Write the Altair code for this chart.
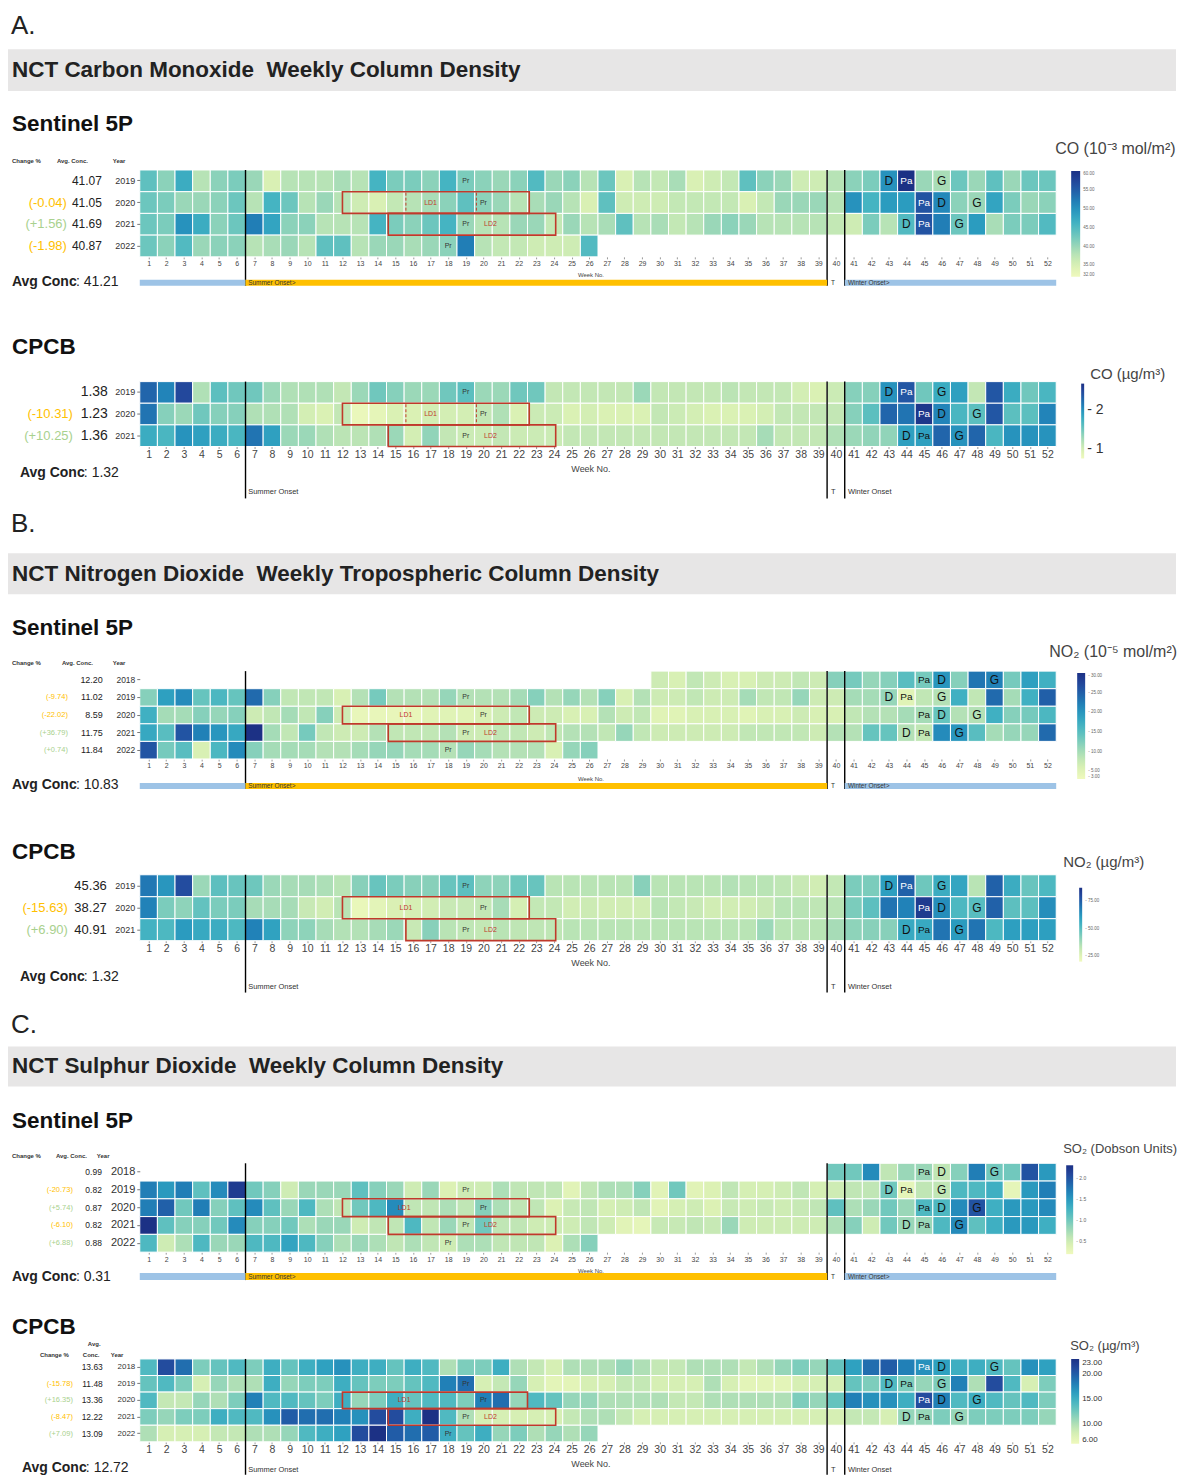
import altair as alt
import pandas as pd

FONT = "Liberation Sans"
W = 918
WEEKS = list(range(1, 53))
RED = "#c0392b"
ORANGE = "#ffc000"
GREEN = "#a9d18e"
BLUE_BAND = "#9dc3e6"
GRAY_BAND = "#e7e6e6"

# ---------------- data: A. Carbon monoxide ----------------
a_s5p_years = [2019, 2020, 2021, 2022]
a_s5p_2019 = [44, 41, 47, 38, 41, 42, 40, 35, 38, 38, 38, 39, 38, 46, 42, 42, 41, 46, 42, 41,
              40, 41, 45, 40, 41, 38, 43, 35, 38, 37, 39, 35, 36, 37, 44, 41, 40, 36, 36, 38,
              41, 42, 50, 60, 40, 39, 43, 40, 44, 40, 43, 43]
a_s5p_2020 = [43, 42, 40, 40, 41, 43, 38, 46, 43, 38, 40, 38, 36, 35, 37, 38, 39, 41, 44, 41,
              40, 38, 39, 40, 38, 35, 44, 36, 36, 36, 37, 37, 37, 37, 35, 37, 40, 40, 40, 38,
              50, 46, 49, 49, 56, 51, 41, 40, 48, 42, 40, 41]
a_s5p_2021 = [43, 42, 50, 47, 41, 43, 52, 48, 41, 41, 38, 38, 38, 46, 42, 41, 43, 46, 40, 38,
              38, 40, 40, 37, 40, 38, 39, 44, 38, 39, 37, 38, 40, 41, 40, 38, 38, 38, 38, 37,
              36, 42, 38, 45, 56, 52, 43, 49, 39, 42, 42, 45]
a_s5p_2022 = [43, 41, 45, 40, 41, 41, 38, 39, 40, 38, 44, 44, 38, 40, 40, 39, 40, 41, 52, 38,
              37, 37, 36, 36, 36, 45]
a_s5p_avg = ["41.07", "41.05", "41.69", "40.87"]
a_s5p_chg = ["", "(-0.04)", "(+1.56)", "(-1.98)"]

a_cpcb_years = [2019, 2020, 2021]
a_cpcb_2019 = [2.3, 2.1, 2.5, 1.2, 1.6, 1.5, 1.5, 1.3, 1.2, 1.2, 1.2, 1.1, 1.3, 1.5, 1.4, 1.3, 1.3, 1.5, 1.6, 1.3,
               1.3, 1.5, 1.5, 1.1, 1.1, 1.1, 1.1, 1.1, 1.3, 1.1, 1.1, 1.1, 1.1, 1.15, 1.1, 1.1, 1.1, 1.0, 0.95, 1.05,
               1.4, 1.4, 2.0, 2.4, 1.5, 1.8, 1.9, 1.1, 2.4, 1.8, 1.5, 1.7]
a_cpcb_2020 = [2.2, 1.4, 1.3, 1.5, 1.4, 1.4, 1.2, 1.2, 1.2, 1.0, 0.95, 1.1, 0.8, 0.85, 0.95, 0.95, 1.0, 1.0, 1.0, 1.1,
               1.2, 0.95, 1.05, 1.05, 0.95, 1.0, 0.95, 0.95, 0.95, 1.1, 1.05, 1.0, 0.95, 0.95, 0.95, 1.0, 1.1, 1.1, 1.1, 1.1,
               1.4, 1.6, 2.3, 2.2, 2.65, 2.1, 1.7, 1.6, 2.4, 1.6, 1.6, 2.1]
a_cpcb_2021 = [1.8, 1.7, 2.0, 1.9, 1.8, 1.7, 2.2, 1.9, 1.3, 1.3, 1.2, 1.15, 1.15, 1.2, 1.3, 1.0, 1.35, 1.1, 1.05, 1.05,
               1.1, 1.05, 1.05, 1.05, 1.1, 1.1, 1.1, 1.1, 1.1, 1.1, 1.1, 1.1, 1.1, 1.1, 1.1, 1.25, 1.1, 1.1, 1.1, 1.2,
               1.3, 1.35, 1.35, 1.9, 1.9, 2.3, 2.0, 2.3, 1.7, 2.0, 2.0, 2.0]
a_cpcb_avg = ["1.38", "1.23", "1.36"]
a_cpcb_chg = ["", "(-10.31)", "(+10.25)"]

# ---------------- data: B. Nitrogen dioxide ----------------
b_s5p_years = [2018, 2019, 2020, 2021, 2022]
b_s5p_2018 = [7, 6, 8, 7, 6, 6, 7, 7, 8, 7, 12, 13, 11, 12, 15, 13, 20, 12, 23, 22, 13, 19, 17]  # weeks 30-52
b_s5p_2019 = [12, 19, 21, 14, 16, 14, 24, 12, 8, 8, 8, 6, 9, 13, 9, 9, 9, 11, 9, 9,
              9, 10, 12, 9, 11, 9, 12, 6, 9, 7, 7, 8, 7, 7, 10, 8, 8, 11, 7, 7,
              10, 10, 11, 5, 8, 9, 17, 8, 24, 10, 17, 25]
b_s5p_2020 = [17, 10, 10, 12, 11, 12, 7, 8, 10, 8, 12, 7, 4, 4, 4, 4, 5, 5, 5, 6,
              7, 8, 7, 7, 6, 6, 9, 7, 8, 5, 5, 6, 6, 6, 5, 6, 6, 7, 6, 6,
              8, 9, 9, 10, 10, 14, 9, 9, 17, 12, 13, 16]
b_s5p_2021 = [18, 15, 26, 22, 20, 18, 30, 10, 8, 13, 8, 7, 7, 9, 8, 8, 8, 9, 7, 7,
              8, 8, 7, 8, 9, 9, 8, 11, 8, 7, 7, 7, 7, 7, 8, 8, 8, 8, 7, 9,
              9, 14, 14, 9, 8, 21, 20, 15, 10, 11, 11, 24]
b_s5p_2022 = [26, 13, 15, 6, 16, 21, 12, 10, 10, 10, 9, 9, 10, 11, 11, 10, 10, 9, 11, 10,
              9, 9, 9, 6, 11, 12]
b_s5p_avg = ["12.20", "11.02", "8.59", "11.75", "11.84"]
b_s5p_chg = ["", "(-9.74)", "(-22.02)", "(+36.79)", "(+0.74)"]

b_cpcb_years = [2019, 2020, 2021]
b_cpcb_2019 = [69, 62, 79, 39, 49, 47, 46, 39, 37, 37, 36, 34, 42, 47, 44, 42, 42, 47, 49, 41,
               41, 46, 47, 34, 34, 34, 34, 34, 42, 34, 34, 34, 34, 35, 34, 34, 33, 31, 29, 32,
               44, 44, 60, 74, 46, 56, 58, 34, 74, 56, 47, 52]
b_cpcb_2020 = [67, 44, 41, 48, 44, 44, 37, 37, 37, 31, 29, 34, 22, 24, 27, 28, 29, 31, 31, 32,
               37, 28, 32, 32, 29, 30, 29, 29, 29, 34, 32, 31, 29, 29, 29, 31, 34, 34, 33, 34,
               44, 49, 70, 67, 84, 64, 52, 50, 74, 49, 49, 64]
b_cpcb_2021 = [54, 52, 61, 57, 56, 52, 67, 59, 41, 41, 37, 35, 35, 37, 39, 31, 42, 34, 33, 32,
               34, 33, 33, 33, 34, 34, 34, 34, 34, 34, 34, 34, 34, 34, 34, 39, 34, 34, 34, 37,
               41, 42, 42, 57, 57, 70, 61, 70, 52, 60, 60, 60]
b_cpcb_avg = ["45.36", "38.27", "40.91"]
b_cpcb_chg = ["", "(-15.63)", "(+6.90)"]

# ---------------- data: C. Sulphur dioxide ----------------
c_s5p_years = [2018, 2019, 2020, 2021, 2022]
c_s5p_2018 = [1.0, 1.0, 1.6, 0.6, 0.8, 0.8, 0.6, 0.9, 1.7, 1.0, 1.0, 2.0, 1.5]  # weeks 40-52
c_s5p_2019 = [1.7, 1.5, 1.7, 1.1, 1.6, 2.2, 1.0, 0.9, 0.5, 0.8, 0.8, 0.8, 1.1, 0.9, 0.8, 0.5, 0.8, 0.4, 0.5, 0.5,
              0.7, 0.6, 0.6, 0.6, 0.35, 0.6, 0.7, 0.7, 0.9, 0.35, 1.0, 0.35, 0.4, 0.6, 0.45, 0.45, 0.5, 0.6, 0.45, 0.5,
              0.6, 0.6, 1.0, 0.3, 0.6, 0.6, 1.2, 1.2, 1.3, 0.3, 1.5, 1.7]
c_s5p_2020 = [1.7, 1.9, 1.0, 1.7, 0.9, 1.1, 1.6, 1.1, 0.8, 1.2, 0.7, 0.6, 1.0, 1.2, 1.6, 0.6, 0.6, 0.7, 0.6, 0.9,
              0.7, 0.6, 0.6, 0.4, 0.55, 0.6, 0.45, 0.5, 0.6, 0.35, 0.45, 0.5, 0.4, 0.55, 0.5, 0.55, 0.5, 0.55, 0.6, 1.1,
              0.7, 0.8, 1.0, 0.8, 1.2, 1.2, 1.6, 2.0, 1.3, 1.5, 1.5, 1.6]
c_s5p_2021 = [2.3, 1.1, 0.9, 0.9, 1.0, 1.6, 0.9, 0.9, 1.0, 0.7, 0.8, 0.8, 0.5, 0.6, 0.6, 1.2, 0.6, 0.8, 0.6, 1.0,
              0.6, 0.6, 0.5, 0.5, 0.5, 0.6, 0.5, 0.35, 0.3, 0.55, 0.55, 0.6, 0.55, 0.8, 0.5, 0.5, 0.5, 0.5, 0.5, 0.7,
              0.9, 0.5, 1.0, 0.8, 0.8, 1.2, 1.6, 1.1, 1.3, 1.5, 1.5, 1.3]
c_s5p_2022 = [1.2, 0.5, 0.7, 1.2, 0.8, 0.8, 1.2, 1.2, 1.4, 1.2, 0.9, 0.7, 0.8, 0.7, 0.6, 0.7, 0.6, 0.5, 0.7, 0.7,
              0.6, 0.6, 0.6, 0.4, 0.7, 0.9]
c_s5p_avg = ["0.99", "0.82", "0.87", "0.82", "0.88"]
c_s5p_chg = ["", "(-20.73)", "(+5.74)", "(-6.10)", "(+6.88)"]

c_cpcb_years = [2018, 2019, 2020, 2021, 2022]
c_cpcb_2018 = [14, 21, 19, 12, 13, 14, 12, 15, 13, 15, 16, 17, 15, 15, 13, 15, 14, 10, 12, 12,
               15, 10, 9, 8, 10, 10, 10, 11, 10, 9, 9, 10, 10, 10, 9, 10, 11, 12, 11, 13,
               16, 19, 20, 18, 17, 16, 15, 15, 14, 13, 17, 16]
c_cpcb_2019 = [13, 14, 12, 8, 11, 10, 10, 15, 11, 12, 12, 15, 13, 12, 12, 13, 14, 18, 19, 8,
               9, 11, 8, 7, 7, 8, 8, 9, 9, 8, 8, 8, 10, 8, 7, 7, 7, 8, 8, 8,
               13, 12, 14, 12, 11, 12, 18, 10, 21, 14, 8, 12]
c_cpcb_2020 = [14, 9, 9, 11, 10, 12, 18, 14, 14, 13, 12, 15, 11, 12, 15, 13, 14, 14, 12, 18,
               19, 11, 14, 13, 11, 11, 10, 10, 10, 10, 9, 9, 10, 10, 10, 10, 10, 12, 11, 13,
               18, 17, 17, 15, 21, 18, 14, 15, 14, 13, 14, 12]
c_cpcb_2021 = [12, 11, 12, 12, 15, 14, 14, 17, 20, 19, 19, 18, 17, 21, 21, 15, 23, 14, 10, 8,
               8, 8, 8, 8, 9, 10, 10, 9, 8, 8, 8, 8, 8, 8, 8, 8, 8, 8, 8, 8,
               9, 9, 8, 11, 11, 12, 11, 12, 12, 12, 12, 11]
c_cpcb_2022 = [10, 8, 8, 8, 9, 9, 10, 10, 11, 14, 15, 16, 21, 23, 20, 19, 20, 15, 13, 15,
               11, 12, 10, 11, 10, 11]
c_cpcb_avg = ["13.63", "11.48", "13.36", "12.22", "13.09"]
c_cpcb_chg = ["", "(-15.78)", "(+16.35)", "(-8.47)", "(+7.09)"]

# ---------------- annotations ----------------
event_marks = {2018: [(45, "Pa"), (46, "D"), (49, "G")],
               2019: [(43, "D"), (44, "Pa"), (46, "G")],
               2020: [(45, "Pa"), (46, "D"), (48, "G")],
               2021: [(44, "D"), (45, "Pa"), (47, "G")]}
pr_week = {2019: 19, 2020: 20, 2021: 19, 2022: 18}

band_start = [0.5, 40.5]
band_end = [6.5, 52.5]
summer_start = [6.5]
summer_end = [39.5]
season_lines = [6.5, 39.5, 40.5]
onset_pos = [6.65, 39.72, 40.68]

XS = alt.Scale(domain=[0.5, 52.5], nice=False, zero=False)


def txt(text, x, y, size, weight="normal", color="#222", align="left"):
    return alt.Chart(pd.DataFrame({"t": [text]})).mark_text(
        align=align, baseline="middle", fontSize=size, fontWeight=weight, color=color, font=FONT
    ).encode(x=alt.value(x), y=alt.value(y), text="t:N")


def rect_px(x1, x2, y1, y2, color):
    return alt.Chart(pd.DataFrame({"a": [0]})).mark_rect(color=color).encode(
        x=alt.value(x1), x2=alt.value(x2), y=alt.value(y1), y2=alt.value(y2))


def panel(c):
    h = c["h"]
    years = c["years"]
    ysc = alt.Scale(domain=years, paddingInner=0, paddingOuter=0)
    x_ax = alt.Axis(values=WEEKS, format="d", labelFontSize=c["xfs"], labelFont=FONT, labelColor="#444",
                    tickSize=2, tickColor="#999", labelPadding=1, domain=False, grid=False, title=None,
                    labelOverlap=False, labelFlush=False)
    y_ax = alt.Axis(labelFontSize=c["yfs"], labelFont=FONT, labelColor="#333", tickSize=3,
                    tickColor="#777", labelPadding=2, domain=False, title=None)

    def X(f):
        return alt.X(f, scale=XS, axis=x_ax)

    Yenc = alt.Y("year:O", scale=ysc, axis=y_ax)
    lo, hi = c["domain"]
    recs = []
    vals = {}
    for yr, start, series in c["rows"]:
        for i, v in enumerate(series):
            recs.append({"year": yr, "week": start + i, "v": v})
            vals[(yr, start + i)] = v
    df = pd.DataFrame(recs)
    layers = []

    # ---- section header / titles ----
    if "section" in c:
        s = c["section"]
        layers.append(rect_px(-132, 1038, s["band"][0], s["band"][1], GRAY_BAND))
        layers.append(txt(s["letter"], -129, s["letter_y"], 26, color="#222"))
        layers.append(txt(s["title"], -128, (s["band"][0] + s["band"][1]) / 2, 22.5, weight="bold", color="#222"))
    layers.append(txt(c["source"], -128, c["source_y"], 22.5, weight="bold", color="#111"))
    layers.append(txt(c["unit"], c["unit_x"], c["unit_y"], c["unit_fs"], color="#444"))
    for t, x, y in c["headers"]:
        layers.append(txt(t, x, y, 6, weight="bold", color="#333"))

    # ---- heatmap ----
    lg = c["legend"]
    legend_kw = dict(orient="none", legendX=lg["x"], legendY=lg["y"], direction="vertical",
                     gradientLength=lg["len"], gradientThickness=lg["thick"], gradientStrokeWidth=0,
                     title=None, values=lg["values"], format=lg["fmt"], labelFontSize=lg["fs"],
                     labelFont=FONT, labelColor=lg.get("lc", "#666"), labelOverlap=False,
                     labelOffset=3, padding=0)
    if lg.get("expr"):
        legend_kw["labelExpr"] = lg["expr"]
    heat = alt.Chart(df).transform_calculate(
        x0="datum.week - 0.5", x1="datum.week + 0.5"
    ).mark_rect(stroke="white", strokeWidth=1).encode(
        x=X("x0:Q"),
        x2="x1:Q",
        y=Yenc,
        color=alt.Color("v:Q", scale=alt.Scale(scheme="yellowgreenblue", domain=[lo, hi], clamp=True),
                        legend=alt.Legend(**legend_kw)),
    )
    layers.append(heat)

    # ---- lockdown boxes ----
    bdf = pd.DataFrame(c["boxes"], columns=["year", "b0", "b1"])
    layers.append(alt.Chart(bdf).mark_rect(filled=False, stroke=RED, strokeWidth=1.6).encode(
        x=X("b0:Q"), x2="b1:Q", y=Yenc))
    if c.get("dashed"):
        rowh = h / len(years)
        r = years.index(2020)
        ddf = pd.DataFrame({"p": c["dashed"]})
        layers.append(alt.Chart(ddf).mark_rule(color=RED, strokeDash=[3, 2], strokeWidth=1).encode(
            x=X("p:Q"), y=alt.value(r * rowh + 1), y2=alt.value((r + 1) * rowh - 1)))

    # ---- season lines ----
    ldf = pd.DataFrame({"p": season_lines})
    layers.append(alt.Chart(ldf).mark_rule(color="black", strokeWidth=1.4).encode(
        x=X("p:Q"), y=alt.value(0), y2=alt.value(h + c["line_ext"])))

    # ---- in-cell labels ----
    big, pa_dark, pa_light, pr = [], [], [], []
    for yr in years:
        for wk, lab in event_marks.get(yr, []):
            rec = {"year": yr, "w": wk, "t": lab}
            if lab == "Pa":
                tt = (vals.get((yr, wk), lo) - lo) / (hi - lo)
                (pa_light if tt > 0.6 else pa_dark).append(rec)
            else:
                big.append(rec)
        if yr in pr_week:
            pr.append({"year": yr, "w": pr_week[yr], "t": "Pr"})
    groups = [(big, c["dg_fs"], "#111"), (pa_dark, c["pa_fs"], "#111"),
              (pa_light, c["pa_fs"], "#ffffff"), (pr, c["pr_fs"], "#333")]
    for recs_, fs, col in groups:
        if recs_:
            layers.append(alt.Chart(pd.DataFrame(recs_)).mark_text(
                fontSize=fs, color=col, font=FONT, baseline="middle").encode(
                x=X("w:Q"), y=Yenc, text="t:N"))
    ld = pd.DataFrame(c["ld_labels"], columns=["year", "w", "t"])
    layers.append(alt.Chart(ld).mark_text(fontSize=c["pr_fs"], color=RED, font=FONT, baseline="middle").encode(
        x=X("w:Q"), y=Yenc, text="t:N"))

    # ---- left-hand labels ----
    adf = pd.DataFrame({"year": years, "avg": c["avg"], "chg": c["chg"]})
    layers.append(alt.Chart(adf).mark_text(align="right", baseline="middle", fontSize=c["avg_fs"],
                                           color="#222", font=FONT).encode(
        x=alt.value(c["avg_x"]), y=Yenc, text="avg:N"))
    neg = adf[adf["chg"].str.startswith("(-")]
    pos = adf[adf["chg"].str.startswith("(+")]
    for sub, col in [(neg, ORANGE), (pos, GREEN)]:
        if len(sub):
            layers.append(alt.Chart(sub).mark_text(align="right", baseline="middle", fontSize=c["chg_fs"],
                                                   color=col, font=FONT).encode(
                x=alt.value(c["chg_x"]), y=Yenc, text="chg:N"))

    # ---- bottom ----
    wk = pd.DataFrame({"p": [26.1], "t": ["Week No."]})
    layers.append(alt.Chart(wk).mark_text(fontSize=c["wk_fs"], color="#444", font=FONT, baseline="middle").encode(
        x=X("p:Q"), y=alt.value(h + c["wk_y"]), text="t:N"))
    if c["kind"] == "band":
        y1, y2 = c["band_y"]
        layers.append(alt.Chart(pd.DataFrame({"s": band_start, "e": band_end})).mark_rect(color=BLUE_BAND).encode(
            x=X("s:Q"), x2="e:Q", y=alt.value(h + y1), y2=alt.value(h + y2)))
        layers.append(alt.Chart(pd.DataFrame({"s": summer_start, "e": summer_end})).mark_rect(color=ORANGE).encode(
            x=X("s:Q"), x2="e:Q", y=alt.value(h + y1), y2=alt.value(h + y2)))
        onset_txt = ["Summer Onset>", "T", "Winter Onset>"]
        oy = (y1 + y2) / 2
    else:
        onset_txt = ["Summer Onset", "T", "Winter Onset"]
        oy = c["onset_y"]
    odf = pd.DataFrame({"p": onset_pos, "t": onset_txt})
    layers.append(alt.Chart(odf).mark_text(align="left", baseline="middle", fontSize=c["onset_fs"],
                                           color="#333", font=FONT).encode(
        x=X("p:Q"), y=alt.value(h + oy), text="t:N"))
    ax, ay = c["avgconc_pos"]
    layers.append(txt("Avg Conc", ax, h + ay, 14, weight="bold", color="#222"))
    layers.append(txt(": " + c["avgconc"], ax + 64, h + ay, 14, color="#222"))

    return alt.layer(*layers).properties(width=W, height=h)


def spacer(hh):
    return alt.Chart(pd.DataFrame({"a": [0]})).mark_point(opacity=0).encode(
        x=alt.value(400), y=alt.value(hh / 2)).properties(width=W, height=hh)


std_boxes = [(2020, 12.0, 22.6), (2021, 14.6, 24.1)]
NB = "\u00a0"

pA1 = panel(dict(
    h=87, years=a_s5p_years,
    rows=[(2019, 1, a_s5p_2019), (2020, 1, a_s5p_2020), (2021, 1, a_s5p_2021), (2022, 1, a_s5p_2022)],
    domain=[32, 60],
    legend=dict(x=933, y=1, len=106, thick=9, values=[32, 35, 40, 45, 50, 55, 60], fmt=".2f", fs=4.5),
    section=dict(letter="A.", letter_y=-144, band=(-121, -79),
                 title="NCT Carbon Monoxide" + NB + " Weekly Column Density"),
    source="Sentinel 5P", source_y=-46,
    unit="CO (10⁻³ mol/m²)", unit_x=917, unit_y=-21, unit_fs=16,
    headers=[("Change %", -128, -9), ("Avg. Conc.", -83, -9), ("Year", -27, -9)],
    avg=a_s5p_avg, chg=a_s5p_chg, avg_x=-38, avg_fs=12, chg_x=-73, chg_fs=13, yfs=9,
    xfs=7, wk_fs=6, wk_y=18, kind="band", band_y=(23, 29), onset_fs=6.5, line_ext=29,
    avgconc="41.21", avgconc_pos=(-128, 25),
    boxes=std_boxes, dashed=[15.6, 19.6],
    ld_labels=[(2020, 17.0, "LD1"), (2021, 20.4, "LD2")],
    dg_fs=12, pa_fs=10, pr_fs=7,
))

pA2 = panel(dict(
    h=65, years=a_cpcb_years,
    rows=[(2019, 1, a_cpcb_2019), (2020, 1, a_cpcb_2020), (2021, 1, a_cpcb_2021)],
    domain=[0.75, 2.7],
    legend=dict(x=943, y=2, len=75, thick=3, values=[1, 2], fmt="d", fs=14, lc="#333", expr="'- ' + datum.label"),
    source="CPCB", source_y=-35,
    unit="CO (µg/m³)", unit_x=952, unit_y=-8, unit_fs=15,
    headers=[],
    avg=a_cpcb_avg, chg=a_cpcb_chg, avg_x=-32, avg_fs=14, chg_x=-67, chg_fs=13, yfs=9,
    xfs=10.5, wk_fs=9, wk_y=23, kind="onset", onset_y=46, onset_fs=7.5, line_ext=52,
    avgconc="1.32", avgconc_pos=(-120, 27),
    boxes=std_boxes, dashed=[15.6, 19.6],
    ld_labels=[(2020, 17.0, "LD1"), (2021, 20.4, "LD2")],
    dg_fs=12, pa_fs=10, pr_fs=7,
))

pB1 = panel(dict(
    h=88, years=b_s5p_years,
    rows=[(2018, 30, b_s5p_2018), (2019, 1, b_s5p_2019), (2020, 1, b_s5p_2020), (2021, 1, b_s5p_2021),
          (2022, 1, b_s5p_2022)],
    domain=[3, 30],
    legend=dict(x=939, y=2, len=106, thick=8, values=[3, 5, 10, 15, 20, 25, 30], fmt=".2f", fs=4.5,
                expr="'- ' + datum.label"),
    section=dict(letter="B.", letter_y=-147, band=(-118, -77),
                 title="NCT Nitrogen Dioxide" + NB + " Weekly Tropospheric Column Density"),
    source="Sentinel 5P", source_y=-43,
    unit="NO₂ (10⁻⁵ mol/m²)", unit_x=911, unit_y=-19, unit_fs=16,
    headers=[("Change %", -128, -8), ("Avg. Conc.", -78, -8), ("Year", -27, -8)],
    avg=b_s5p_avg, chg=b_s5p_chg, avg_x=-37, avg_fs=9, chg_x=-72, chg_fs=7.5, yfs=8.5,
    xfs=7, wk_fs=6, wk_y=20, kind="band", band_y=(24, 30), onset_fs=6.5, line_ext=30,
    avgconc="10.83", avgconc_pos=(-128, 26),
    boxes=std_boxes,
    ld_labels=[(2020, 15.6, "LD1"), (2021, 20.4, "LD2")],
    dg_fs=12, pa_fs=10, pr_fs=7,
))

pB2 = panel(dict(
    h=66, years=b_cpcb_years,
    rows=[(2019, 1, b_cpcb_2019), (2020, 1, b_cpcb_2020), (2021, 1, b_cpcb_2021)],
    domain=[20, 87],
    legend=dict(x=941, y=13, len=74, thick=3, values=[25, 50, 75], fmt=".2f", fs=4.5, expr="'- ' + datum.label"),
    source="CPCB", source_y=-23,
    unit="NO₂ (µg/m³)", unit_x=925, unit_y=-13, unit_fs=15,
    headers=[],
    avg=b_cpcb_avg, chg=b_cpcb_chg, avg_x=-33, avg_fs=13, chg_x=-72, chg_fs=13, yfs=9,
    xfs=10.5, wk_fs=9, wk_y=22, kind="onset", onset_y=46, onset_fs=7.5, line_ext=52,
    avgconc="1.32", avgconc_pos=(-120, 36),
    boxes=[(2020, 12.0, 22.6), (2021, 15.6, 24.1)],
    ld_labels=[(2020, 15.6, "LD1"), (2021, 20.4, "LD2")],
    dg_fs=12, pa_fs=10, pr_fs=7,
))

pC1 = panel(dict(
    h=89, years=c_s5p_years,
    rows=[(2018, 40, c_s5p_2018), (2019, 1, c_s5p_2019), (2020, 1, c_s5p_2020), (2021, 1, c_s5p_2021),
          (2022, 1, c_s5p_2022)],
    domain=[0.2, 2.3],
    legend=dict(x=928, y=2, len=89, thick=7, values=[0.5, 1.0, 1.5, 2.0], fmt=".1f", fs=5,
                expr="'- ' + datum.label"),
    section=dict(letter="C.", letter_y=-139, band=(-117, -77),
                 title="NCT Sulphur Dioxide" + NB + " Weekly Column Density"),
    source="Sentinel 5P", source_y=-42,
    unit="SO₂ (Dobson Units)", unit_x=925, unit_y=-14, unit_fs=13,
    headers=[("Change %", -128, -7), ("Avg. Conc.", -84, -7), ("Year", -43, -7)],
    avg=c_s5p_avg, chg=c_s5p_chg, avg_x=-38, avg_fs=8.5, chg_x=-67, chg_fs=7.5, yfs=11,
    xfs=7, wk_fs=6, wk_y=19, kind="band", band_y=(21, 28), onset_fs=6.5, line_ext=28,
    avgconc="0.31", avgconc_pos=(-128, 25),
    boxes=std_boxes,
    ld_labels=[(2020, 15.5, "LD1"), (2021, 20.4, "LD2")],
    dg_fs=12, pa_fs=10, pr_fs=7,
))

pC2 = panel(dict(
    h=83, years=c_cpcb_years,
    rows=[(2018, 1, c_cpcb_2018), (2019, 1, c_cpcb_2019), (2020, 1, c_cpcb_2020), (2021, 1, c_cpcb_2021),
          (2022, 1, c_cpcb_2022)],
    domain=[6, 23],
    legend=dict(x=933, y=0, len=85, thick=8, values=[6, 10, 15, 20, 23], fmt=".2f", fs=8, lc="#333"),
    source="CPCB", source_y=-32,
    unit="SO₂ (µg/m³)", unit_x=932, unit_y=-13, unit_fs=13,
    headers=[("Avg.", -52, -15), ("Change %", -100, -4), ("Conc.", -57, -4), ("Year", -29, -4)],
    avg=c_cpcb_avg, chg=c_cpcb_chg, avg_x=-37, avg_fs=8.5, chg_x=-67, chg_fs=7.5, yfs=8,
    xfs=10.5, wk_fs=9, wk_y=22, kind="onset", onset_y=28, onset_fs=7.5, line_ext=33,
    avgconc="12.72", avgconc_pos=(-118, 26),
    boxes=[(2020, 12.0, 22.5), (2021, 14.6, 24.1)],
    ld_labels=[(2020, 15.5, "LD1"), (2021, 20.4, "LD2")],
    dg_fs=12, pa_fs=10, pr_fs=7,
))

chart = alt.vconcat(
    spacer(161), pA1, spacer(125), pA2, spacer(225), pB1, spacer(116), pB2,
    spacer(223), pC1, spacer(107), pC2,
    spacing=0, bounds="flush",
).resolve_scale(
    color="independent", x="independent", y="independent"
).resolve_legend(color="independent").properties(padding=0).configure_view(stroke=None)

chart.save("out.html", embed_options={"renderer": "svg", "actions": False})
